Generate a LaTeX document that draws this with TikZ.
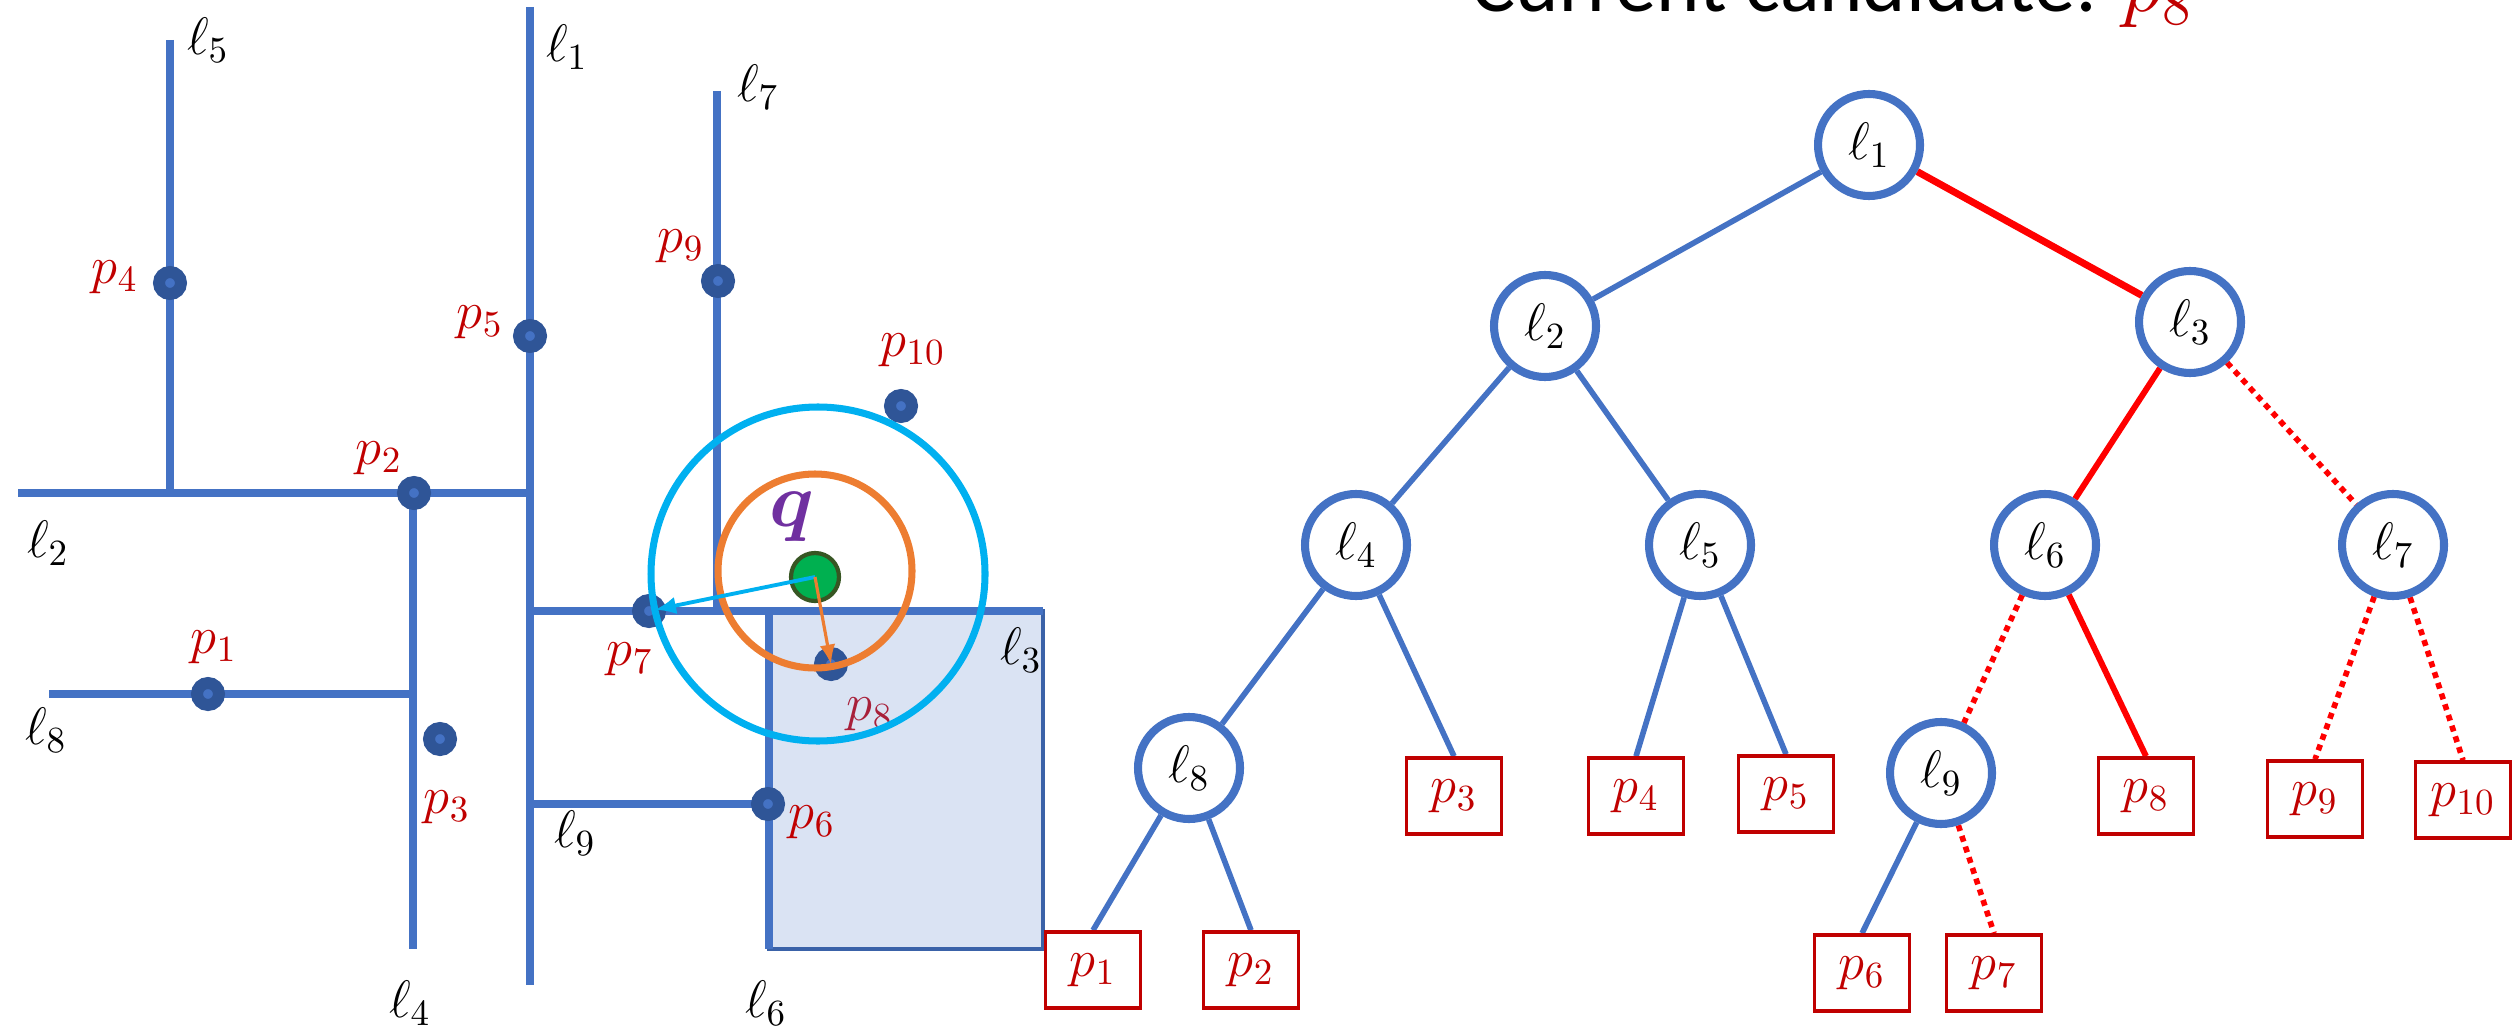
\RequirePackage{fix-cm}
\documentclass[tikz,border=0pt]{standalone}
\usepackage{fontspec}
\usepackage{bm}
\newfontfamily\titlefont{Carlito}
\usetikzlibrary{arrows.meta,backgrounds}
\definecolor{lblue}{HTML}{4472C4}
\definecolor{dblue}{HTML}{2F5597}
\definecolor{pred}{HTML}{C00000}
\definecolor{p8red}{HTML}{A8203A}
\definecolor{rfill}{HTML}{DAE3F3}
\definecolor{rborder}{HTML}{3A62A8}
\definecolor{qgreen}{HTML}{00B050}
\definecolor{qdgreen}{HTML}{375623}
\definecolor{qorange}{HTML}{ED7D31}
\definecolor{qcyan}{HTML}{00B0F0}
\definecolor{qpurple}{HTML}{7030A0}
\definecolor{tred}{HTML}{FF0000}
\begin{document}
\begin{tikzpicture}[x=0.1mm,y=-0.1mm,
  segline/.style={lblue, line width=2.1pt},
  ptdot/.style={circle, draw=dblue, fill=lblue, line width=3.4pt, minimum size=2.2mm, inner sep=0},
  lbl/.style={inner sep=0, font=\fontsize{15}{18}\selectfont},
  plbl/.style={lbl, text=pred},
  tnode/.style={circle, draw=lblue, fill=white, line width=2.3pt, minimum size=10.2mm, inner sep=0, font=\fontsize{15}{18}\selectfont},
  leaf/.style={rectangle, draw=pred, fill=white, line width=1pt, minimum width=9.5mm, minimum height=7.6mm, inner sep=0, text=pred, font=\fontsize{15}{18}\selectfont},
  bedge/.style={lblue, line width=1.6pt},
  redge/.style={tred, line width=1.7pt},
  rdot/.style={tred, line width=1.6pt, dash pattern=on 1.7pt off 1.5pt}]
\useasboundingbox (0,0) rectangle (2519,1030);
\clip (0,0) rectangle (2519,1030);

% ---------- map ----------
\fill[rfill] (769,611) rectangle (1043,949);
\draw[rborder, line width=0.9pt] (769,611) rectangle (1043,949);

\coordinate (l1a) at (530,7);   \coordinate (l1b) at (530,985);
\coordinate (l2a) at (18,493);  \coordinate (l2b) at (530,493);
\coordinate (l5a) at (170,40);  \coordinate (l5b) at (170,493);
\coordinate (l4a) at (413,493); \coordinate (l4b) at (413,949);
\coordinate (l8a) at (49,694);  \coordinate (l8b) at (413,694);
\coordinate (l3a) at (530,611); \coordinate (l3b) at (1043,611);
\coordinate (l7a) at (717,91);  \coordinate (l7b) at (717,611);
\coordinate (l6a) at (769,611); \coordinate (l6b) at (769,949);
\coordinate (l9a) at (530,804); \coordinate (l9b) at (769,804);

\draw[segline] (l1a) -- (l1b);
\draw[segline] (l2a) -- (l2b);
\draw[segline] (l5a) -- (l5b);
\draw[segline] (l4a) -- (l4b);
\draw[segline] (l8a) -- (l8b);
\draw[segline] (l3a) -- (l3b);
\draw[segline] (l7a) -- (l7b);
\draw[segline] (l6a) -- (l6b);
\draw[segline] (l9a) -- (l9b);

\node[lbl] (L1) at (567,47) {$\ell_1$};
\node[lbl] (L2) at (48,543) {$\ell_2$};
\node[lbl] (L3) at (1021,650) {$\ell_3$};
\node[lbl] (L4) at (410,1003) {$\ell_4$};
\node[lbl] (L5) at (208,40) {$\ell_5$};
\node[lbl] (L6) at (766,1003) {$\ell_6$};
\node[lbl] (L7) at (758,87) {$\ell_7$};
\node[lbl] (L8) at (46,730) {$\ell_8$};
\node[lbl] (L9) at (575,833) {$\ell_9$};

\node[ptdot] (mp1) at (208,694) {};
\node[ptdot] (mp2) at (414,493) {};
\node[ptdot] (mp3) at (440,739) {};
\node[ptdot] (mp4) at (170,283) {};
\node[ptdot] (mp5) at (530,336) {};
\node[ptdot] (mp6) at (768,804) {};
\node[ptdot] (mp7) at (649,611) {};
\node[ptdot] (mp8) at (831,664) {};
\node[ptdot] (mp9) at (718,281) {};
\node[ptdot] (mp10) at (901,406) {};

\node[plbl] (P1) at (214,647) {$p_1$};
\node[plbl] (P2) at (379,458) {$p_2$};
\node[plbl] (P3) at (447,807) {$p_3$};
\node[plbl] (P4) at (115,277) {$p_4$};
\node[plbl] (P5) at (480,322) {$p_5$};
\node[plbl] (P6) at (812,822) {$p_6$};
\node[plbl] (P7) at (630,659) {$p_7$};
\node[lbl, text=p8red] (P8) at (870,714) {$p_8$};
\node[plbl] (P9) at (681,246) {$p_9$};
\node[plbl] (P10) at (913,350) {$p_{10}$};

\draw[qorange, line width=2pt] (815,571) circle[radius=97];
\draw[qcyan, line width=2pt] (818,574) circle[radius=167];
\node[circle, draw=qdgreen, fill=qgreen, line width=1.2pt, minimum size=4.8mm, inner sep=0] (q) at (815,577) {};
\node[inner sep=0, text=qpurple, font=\fontsize{22}{26}\selectfont] (Q) at (792,517) {$\bm{q}$};
\draw[qcyan, line width=1.1pt, -{Latex[length=6pt,width=5pt]}, shorten >=0.6mm] (q.center) -- (mp7.center);
\draw[qorange, line width=0.9pt, -{Latex[length=5.5pt,width=4.5pt]}] (q.center) -- (mp8.center);

% ---------- title ----------
\node[anchor=base west, inner sep=0] (title) at (1471,12)
  {\titlefont\fontsize{23.5}{28}\selectfont Current candidate: \textcolor{pred}{$p_8$}};

% ---------- tree ----------
\node[tnode] (n1) at (1869,145) {$\ell_1$};
\node[tnode] (n2) at (1545,326) {$\ell_2$};
\node[tnode] (n3) at (2190,322) {$\ell_3$};
\node[tnode] (n4) at (1356,545) {$\ell_4$};
\node[tnode] (n5) at (1700,545) {$\ell_5$};
\node[tnode] (n6) at (2045,545) {$\ell_6$};
\node[tnode] (n7) at (2393,545) {$\ell_7$};
\node[tnode] (n8) at (1189,768) {$\ell_8$};
\node[tnode] (n9) at (1941,773) {$\ell_9$};

\node[leaf] (f1) at (1093,970) {$p_1$};
\node[leaf] (f2) at (1251,970) {$p_2$};
\node[leaf] (f3) at (1454,796) {$p_3$};
\node[leaf] (f4) at (1636,796) {$p_4$};
\node[leaf] (f5) at (1786,794) {$p_5$};
\node[leaf] (f6) at (1862,973) {$p_6$};
\node[leaf] (f7) at (1994,973) {$p_7$};
\node[leaf] (f8) at (2146,796) {$p_8$};
\node[leaf] (f9) at (2315,799) {$p_9$};
\node[leaf] (f10) at (2463,800) {$p_{10}$};

\begin{scope}[on background layer]
\draw[bedge] (n1) -- (n2);
\draw[redge, line width=2pt] (n1) -- (n3);
\draw[bedge] (n2) -- (n4);
\draw[bedge] (n2) -- (n5);
\draw[redge] (n3) -- (n6);
\draw[rdot] (n3) -- (n7);
\draw[bedge] (n4) -- (n8);
\draw[bedge] (n4) -- (f3.north);
\draw[bedge] (n5) -- (f4.north);
\draw[bedge] (n5) -- (f5.north);
\draw[rdot] (n6) -- (n9);
\draw[redge] (n6) -- (f8.north);
\draw[rdot] (n7) -- (f9.north);
\draw[rdot] (n7) -- (f10.north);
\draw[bedge] (n8) -- (f1.north);
\draw[bedge] (n8) -- (f2.north);
\draw[bedge] (n9) -- (f6.north);
\draw[rdot] (n9) -- (f7.north);
\end{scope}
\end{tikzpicture}
\end{document}
